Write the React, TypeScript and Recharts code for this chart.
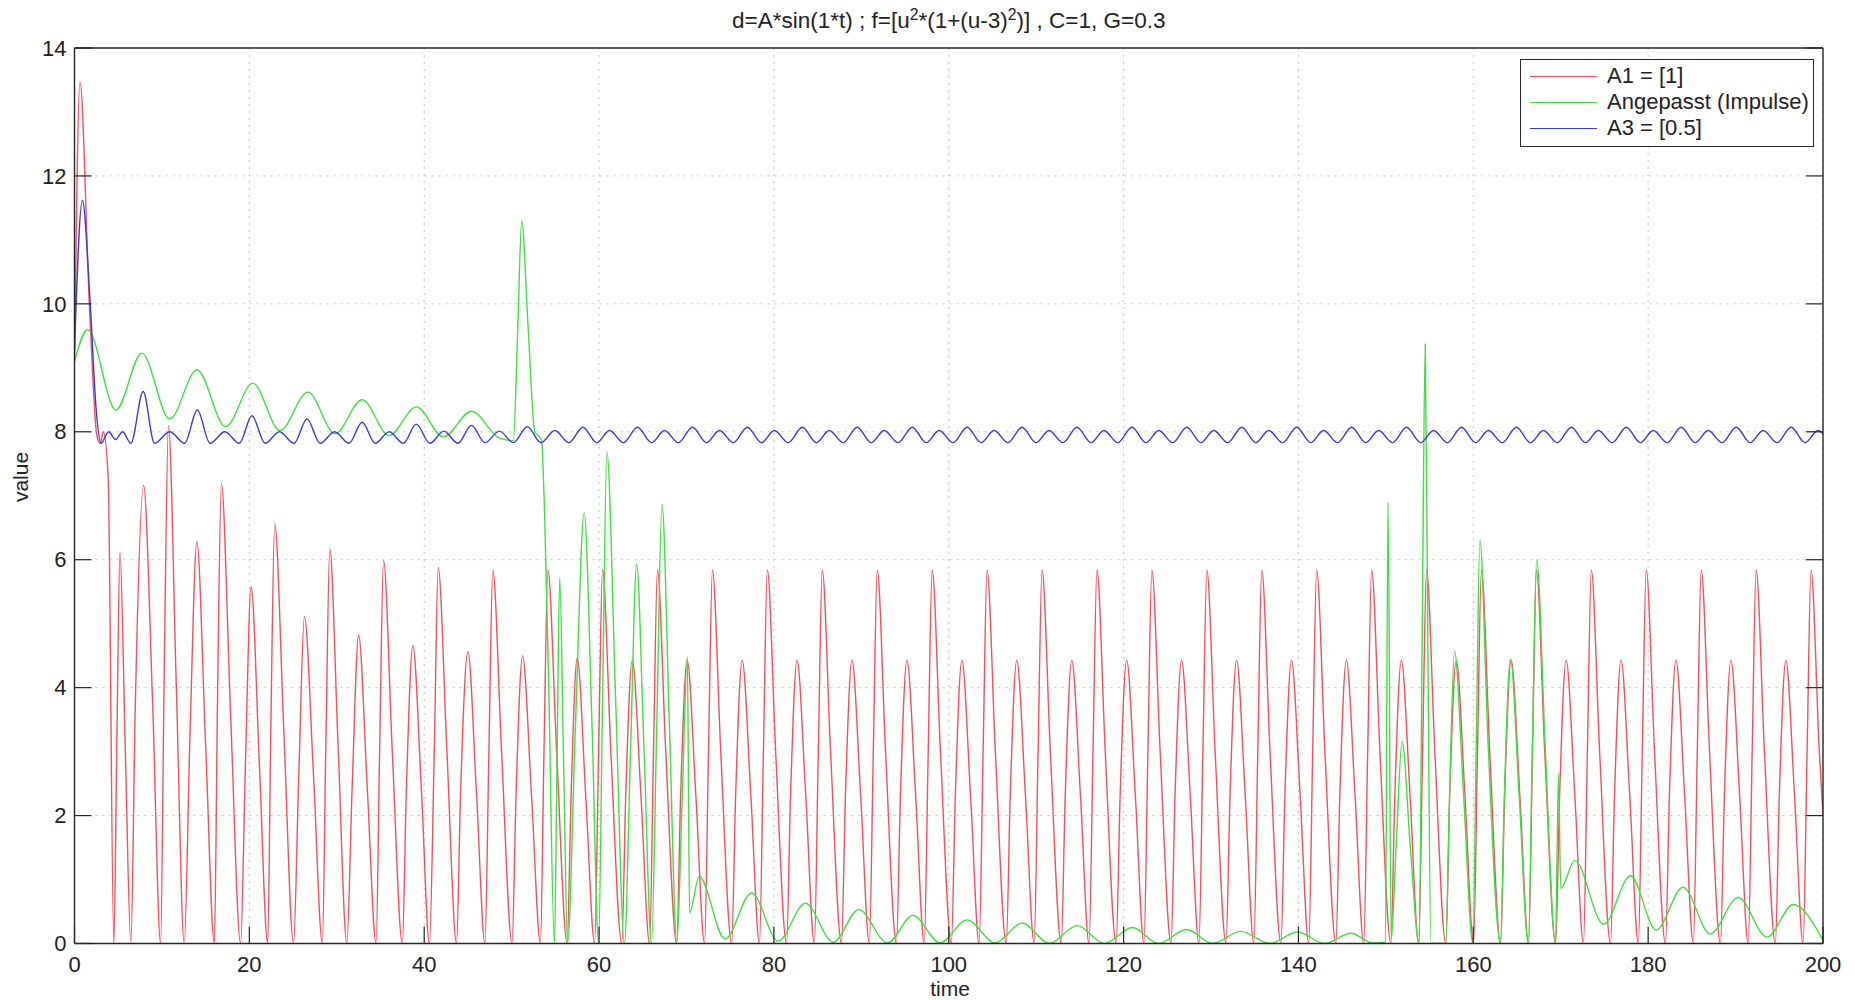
import React from "react";
import { LineChart, Line, XAxis, YAxis, CartesianGrid } from "recharts";

// [time, value] pairs
const A1_POINTS: [number, number][] = [
  [0, 9.1], [0.63, 13.47], [1.7, 10.0], [2.55, 7.95], [2.95, 7.82], [3.3, 8.0], [3.85, 7.3], [4.5, 0],
  [4.85, 3.2], [5.2, 6.12], [5.8, 3.1], [6.45, 0],
  [6.95, 3.7], [7.9, 7.16], [8.95, 3.7], [9.85, 0],
  [10.25, 4.1], [10.75, 8.1], [11.65, 4.0], [12.55, 0],
  [13.2, 3.2], [14.0, 6.28], [15.0, 3.1], [16.0, 0],
  [16.35, 3.7], [16.8, 7.19], [17.85, 3.6], [19.0, 0],
  [19.55, 2.8], [20.2, 5.58], [21.15, 2.8], [22.1, 0],
  [22.45, 3.3], [22.9, 6.56], [23.95, 3.3], [25.05, 0],
  [25.65, 2.6], [26.3, 5.11], [27.35, 2.6], [28.35, 0],
  [28.75, 3.1], [29.2, 6.17], [30.15, 3.1], [31.15, 0],
  [31.75, 2.4], [32.5, 4.82], [33.5, 2.4], [34.5, 0],
  [34.9, 3.0], [35.35, 5.99], [36.35, 3.0], [37.5, 0],
  [37.95, 2.35], [38.7, 4.66], [39.7, 2.35], [40.6, 0],
  [41.15, 3.0], [41.6, 5.88], [42.6, 3.0], [43.7, 0],
  [44.15, 2.3], [45.0, 4.56], [46.0, 2.3], [46.95, 0],
  [47.4, 3.0], [47.85, 5.84], [48.85, 3.0], [50.05, 0],
  [50.5, 2.3], [51.25, 4.5], [52.3, 2.25], [53.3, 0],
  [53.7, 3.0], [54.15, 5.84], [55.15, 3.0], [56.35, 0],
  [56.8, 2.3], [57.5, 4.47], [58.5, 2.25], [59.5, 0],
  [59.95, 3.0], [60.4, 5.84], [61.35, 3.0], [62.6, 0], [63.05, 2.3], [63.8, 4.43], [64.8, 2.3], [65.78, 0],
  [66.23, 3.0], [66.68, 5.84], [67.63, 3.0], [68.88, 0], [69.33, 2.3], [70.08, 4.43], [71.08, 2.3], [72.07, 0],
  [72.52, 3.0], [72.97, 5.84], [73.92, 3.0], [75.17, 0], [75.62, 2.3], [76.37, 4.43], [77.37, 2.3], [78.35, 0],
  [78.8, 3.0], [79.25, 5.84], [80.2, 3.0], [81.45, 0], [81.9, 2.3], [82.65, 4.43], [83.65, 2.3], [84.63, 0],
  [85.08, 3.0], [85.53, 5.84], [86.48, 3.0], [87.73, 0], [88.18, 2.3], [88.93, 4.43], [89.93, 2.3], [90.92, 0],
  [91.37, 3.0], [91.82, 5.84], [92.77, 3.0], [94.02, 0], [94.47, 2.3], [95.22, 4.43], [96.22, 2.3], [97.2, 0],
  [97.65, 3.0], [98.1, 5.84], [99.05, 3.0], [100.3, 0], [100.75, 2.3], [101.5, 4.43], [102.5, 2.3], [103.48, 0],
  [103.93, 3.0], [104.38, 5.84], [105.33, 3.0], [106.58, 0], [107.03, 2.3], [107.78, 4.43], [108.78, 2.3], [109.77, 0],
  [110.22, 3.0], [110.67, 5.84], [111.62, 3.0], [112.87, 0], [113.32, 2.3], [114.07, 4.43], [115.07, 2.3], [116.05, 0],
  [116.5, 3.0], [116.95, 5.84], [117.9, 3.0], [119.15, 0], [119.6, 2.3], [120.35, 4.43], [121.35, 2.3], [122.33, 0],
  [122.78, 3.0], [123.23, 5.84], [124.18, 3.0], [125.43, 0], [125.88, 2.3], [126.63, 4.43], [127.63, 2.3], [128.62, 0],
  [129.07, 3.0], [129.52, 5.84], [130.47, 3.0], [131.72, 0], [132.17, 2.3], [132.92, 4.43], [133.92, 2.3], [134.9, 0],
  [135.35, 3.0], [135.8, 5.84], [136.75, 3.0], [138.0, 0], [138.45, 2.3], [139.2, 4.43], [140.2, 2.3], [141.18, 0],
  [141.63, 3.0], [142.08, 5.84], [143.03, 3.0], [144.28, 0], [144.73, 2.3], [145.48, 4.43], [146.48, 2.3], [147.47, 0],
  [147.92, 3.0], [148.37, 5.84], [149.32, 3.0], [150.57, 0], [151.02, 2.3], [151.77, 4.43], [152.77, 2.3], [153.75, 0],
  [154.2, 3.0], [154.65, 5.84], [155.6, 3.0], [156.85, 0], [157.3, 2.3], [158.05, 4.43], [159.05, 2.3], [160.03, 0],
  [160.48, 3.0], [160.93, 5.84], [161.88, 3.0], [163.13, 0], [163.58, 2.3], [164.33, 4.43], [165.33, 2.3], [166.32, 0],
  [166.77, 3.0], [167.22, 5.84], [168.17, 3.0], [169.42, 0], [169.87, 2.3], [170.62, 4.43], [171.62, 2.3], [172.6, 0],
  [173.05, 3.0], [173.5, 5.84], [174.45, 3.0], [175.7, 0], [176.15, 2.3], [176.9, 4.43], [177.9, 2.3], [178.88, 0],
  [179.33, 3.0], [179.78, 5.84], [180.73, 3.0], [181.98, 0], [182.43, 2.3], [183.18, 4.43], [184.18, 2.3], [185.17, 0],
  [185.62, 3.0], [186.07, 5.84], [187.02, 3.0], [188.27, 0], [188.72, 2.3], [189.47, 4.43], [190.47, 2.3], [191.45, 0],
  [191.9, 3.0], [192.35, 5.84], [193.3, 3.0], [194.55, 0], [195.0, 2.3], [195.75, 4.43], [196.75, 2.3], [197.73, 0],
  [198.18, 3.0], [198.63, 5.84], [199.58, 3.0], [200, 2.0],
];

const IMPULSE_POINTS: [number, number][] = [
  [0, 9.1], [1.5, 9.6], [4.75, 8.34], [7.7, 9.23], [10.9, 8.2], [14.0, 8.97], [17.3, 8.08], [20.4, 8.76],
  [23.5, 8.02], [26.7, 8.62], [29.8, 7.97], [32.9, 8.5], [36.0, 7.94], [39.1, 8.39], [42.2, 7.92], [45.4, 8.32],
  [48.6, 7.9], [50.2, 7.86], [50.7, 9.6], [51.15, 11.3], [51.9, 9.6], [52.65, 8.0], [53.4, 7.88], [54.2, 4.3], [54.9, 0],
  [55.2, 2.9], [55.5, 5.72], [55.95, 2.8], [56.4, 0], [57.3, 3.4], [58.3, 6.73], [59.2, 3.4], [59.95, 0],
  [60.4, 3.8], [60.9, 7.68], [61.9, 3.8], [62.9, 0], [63.6, 3.0], [64.3, 5.93], [65.15, 3.0], [66.0, 0],
  [66.6, 3.4], [67.2, 6.87], [68.05, 3.4], [68.9, 0], [69.5, 2.2], [70.1, 4.48], [70.35, 0.48],
  [71.45, 1.05], [74.4, 0.07], [77.45, 0.79], [80.5, 0.04], [83.6, 0.63], [86.8, 0.02], [89.7, 0.53], [93.0, 0.01],
  [95.9, 0.44], [99.0, 0.01], [102.1, 0.37], [105.3, 0.01], [108.4, 0.32], [111.5, 0], [114.7, 0.28], [117.8, 0],
  [121.0, 0.25], [124.0, 0], [127.2, 0.22], [130.2, 0], [133.4, 0.19], [136.7, 0], [139.9, 0.18], [143.0, 0],
  [146.0, 0.16], [148.5, 0.01], [149.95, 0.02], [150.25, 6.9], [150.6, 0.05], [151.2, 1.6], [151.85, 3.16], [152.8, 1.5], [153.8, 0],
  [154.15, 4.7], [154.5, 9.37], [154.8, 4.7], [155.15, 0], [156.85, 0], [157.3, 2.4], [157.85, 4.57], [158.9, 2.3], [159.95, 0],
  [160.35, 3.2], [160.75, 6.31], [161.7, 3.1], [163.1, 0], [163.55, 2.3], [164.25, 4.45], [165.25, 2.3], [166.3, 0],
  [166.75, 3.0], [167.25, 6.0], [168.25, 3.0], [169.4, 0], [169.75, 2.65], [170.0, 0.86], [171.6, 1.3], [174.9, 0.3],
  [178.0, 1.06], [180.9, 0.21], [184.0, 0.88], [187.1, 0.15], [190.3, 0.72], [193.6, 0.1], [196.6, 0.61], [200, 0.05],
];

const A3_POINTS: [number, number][] = [
  [0, 9.3], [0.9, 11.62], [1.8, 10.0], [2.45, 8.4], [3.05, 7.82], [3.9, 8.0], [4.7, 7.88], [5.5, 8.0], [6.45, 7.82],
  [7.85, 8.63], [9.15, 7.82], [10.9, 8.0], [12.6, 7.82],
  [14.05, 8.34], [15.5, 7.82], [17.2, 8.0], [18.85, 7.82],
  [20.3, 8.25], [21.8, 7.82], [23.45, 8.0], [25.1, 7.82],
  [26.6, 8.2], [28.1, 7.82], [29.75, 8.0], [31.4, 7.82],
  [32.9, 8.15], [34.4, 7.82], [36.0, 8.0], [37.6, 7.82],
  [39.1, 8.12], [40.65, 7.82], [42.25, 8.01], [43.85, 7.82],
  [45.4, 8.1], [46.95, 7.83], [48.6, 8.01], [50.2, 7.83],
  [51.8, 8.08], [53.35, 7.83], [54.95, 8.02], [56.55, 7.83],
  [58.15, 8.07], [59.75, 7.83],
  [61.2, 8.02], [62.8, 7.83], [64.4, 8.07], [66.0, 7.83],
  [67.48, 8.02], [69.08, 7.83], [70.68, 8.07], [72.28, 7.83],
  [73.77, 8.02], [75.37, 7.83], [76.97, 8.07], [78.57, 7.83],
  [80.05, 8.02], [81.65, 7.83], [83.25, 8.07], [84.85, 7.83],
  [86.33, 8.02], [87.93, 7.83], [89.53, 8.07], [91.13, 7.83],
  [92.62, 8.02], [94.22, 7.83], [95.82, 8.07], [97.42, 7.83],
  [98.9, 8.02], [100.5, 7.83], [102.1, 8.07], [103.7, 7.83],
  [105.18, 8.02], [106.78, 7.83], [108.38, 8.07], [109.98, 7.83],
  [111.47, 8.02], [113.07, 7.83], [114.67, 8.07], [116.27, 7.83],
  [117.75, 8.02], [119.35, 7.83], [120.95, 8.07], [122.55, 7.83],
  [124.03, 8.02], [125.63, 7.83], [127.23, 8.07], [128.83, 7.83],
  [130.32, 8.02], [131.92, 7.83], [133.52, 8.07], [135.12, 7.83],
  [136.6, 8.02], [138.2, 7.83], [139.8, 8.07], [141.4, 7.83],
  [142.88, 8.02], [144.48, 7.83], [146.08, 8.07], [147.68, 7.83],
  [149.17, 8.02], [150.77, 7.83], [152.37, 8.07], [153.97, 7.83],
  [155.45, 8.02], [157.05, 7.83], [158.65, 8.07], [160.25, 7.83],
  [161.73, 8.02], [163.33, 7.83], [164.93, 8.07], [166.53, 7.83],
  [168.02, 8.02], [169.62, 7.83], [171.22, 8.07], [172.82, 7.83],
  [174.3, 8.02], [175.9, 7.83], [177.5, 8.07], [179.1, 7.83],
  [180.58, 8.02], [182.18, 7.83], [183.78, 8.07], [185.38, 7.83],
  [186.87, 8.02], [188.47, 7.83], [190.07, 8.07], [191.67, 7.83],
  [193.15, 8.02], [194.75, 7.83], [196.35, 8.07], [197.95, 7.83],
  [199.43, 8.02], [200, 7.97],
];

const SERIES_NAMES = ["A1 = [1]", "Angepasst (Impulse)", "A3 = [0.5]"];
const X_TICKS = [0, 20, 40, 60, 80, 100, 120, 140, 160, 180, 200];
const Y_TICKS = [0, 2, 4, 6, 8, 10, 12, 14];

const CHART_W = 1847;
const CHART_H = 990;
const TICK_LEN = 17;
const AXIS_COLOR = "#262626";
const TEXT_COLOR = "#222";
const FONT = "'Liberation Sans', Arial, Helvetica, sans-serif";
const COLORS = ["#f0505f", "#44dd44", "#3b3bd0"];

const toRows = (pts: [number, number][]) => pts.map(([t, v]) => ({ t, v }));
const SERIES = [A1_POINTS, IMPULSE_POINTS, A3_POINTS].map((pts, i) => ({
  name: SERIES_NAMES[i],
  color: COLORS[i],
  rows: toRows(pts),
}));

function BottomTick(props: any) {
  const { x, y, payload } = props;
  return (
    <g>
      <line x1={x} y1={y} x2={x} y2={y - TICK_LEN} stroke={AXIS_COLOR} strokeWidth={1.2} />
      <text x={x} y={y + 21} dy="0.35em" textAnchor="middle" fontSize={22} fill={TEXT_COLOR} fontFamily={FONT}>
        {payload.value}
      </text>
    </g>
  );
}

function TopTick(props: any) {
  const { x, y } = props;
  return <line x1={x} y1={y} x2={x} y2={y + TICK_LEN} stroke={AXIS_COLOR} strokeWidth={1.2} />;
}

function LeftTick(props: any) {
  const { x, y, payload } = props;
  return (
    <g>
      <line x1={x} y1={y} x2={x + TICK_LEN} y2={y} stroke={AXIS_COLOR} strokeWidth={1.2} />
      <text x={x - 8} y={y} dy="0.35em" textAnchor="end" fontSize={22} fill={TEXT_COLOR} fontFamily={FONT}>
        {payload.value}
      </text>
    </g>
  );
}

function RightTick(props: any) {
  const { x, y } = props;
  return <line x1={x} y1={y} x2={x - TICK_LEN} y2={y} stroke={AXIS_COLOR} strokeWidth={1.2} />;
}

export default function App() {
  const axisLine = { stroke: AXIS_COLOR, strokeWidth: 1.4 };
  return (
    <div style={{ position: "relative", width: CHART_W, height: CHART_H, fontFamily: FONT, color: TEXT_COLOR }}>
      <div
        style={{
          position: "absolute",
          left: 66.5,
          width: 1748.5,
          top: 0,
          textAlign: "center",
          fontSize: 22.5,
          lineHeight: "26px",
          whiteSpace: "nowrap",
        }}
      >
        d=A*sin(1*t) ; f=[u<sup style={{ fontSize: "0.7em", lineHeight: 0 }}>2</sup>*(1+(u-3)
        <sup style={{ fontSize: "0.7em", lineHeight: 0 }}>2</sup>)] , C=1, G=0.3
      </div>

      <LineChart width={CHART_W} height={CHART_H} margin={{ top: 39, right: 31, bottom: 24.5, left: 6.5 }}>
        <CartesianGrid stroke="#c2c2c2" strokeDasharray="2 5" />
        {SERIES.map((s) => (
          <Line
            key={s.name}
            name={s.name}
            data={s.rows}
            dataKey="v"
            type="monotone"
            stroke={s.color}
            strokeWidth={1.4}
            dot={false}
            activeDot={false}
            isAnimationActive={false}
          />
        ))}
        <XAxis
          dataKey="t"
          type="number"
          domain={[0, 200]}
          ticks={X_TICKS}
          interval={0}
          height={30}
          tickSize={0}
          tickMargin={0}
          tickLine={false}
          tick={<BottomTick />}
          axisLine={axisLine}
          allowDataOverflow
        />
        <XAxis
          xAxisId="top"
          orientation="top"
          type="number"
          domain={[0, 200]}
          ticks={X_TICKS}
          interval={0}
          height={1}
          tickSize={0}
          tickMargin={0}
          tickLine={false}
          tick={<TopTick />}
          axisLine={axisLine}
          allowDataOverflow
        />
        <YAxis
          type="number"
          domain={[0, 14]}
          ticks={Y_TICKS}
          interval={0}
          width={60}
          tickSize={0}
          tickMargin={0}
          tickLine={false}
          tick={<LeftTick />}
          axisLine={axisLine}
          allowDataOverflow
        />
        <YAxis
          yAxisId="right"
          orientation="right"
          type="number"
          domain={[0, 14]}
          ticks={Y_TICKS}
          interval={0}
          width={1}
          tickSize={0}
          tickMargin={0}
          tickLine={false}
          tick={<RightTick />}
          axisLine={axisLine}
          allowDataOverflow
        />
      </LineChart>

      <div
        style={{
          position: "absolute",
          left: 13,
          top: 469,
          transform: "translate(-50%, -50%) rotate(-90deg)",
          fontSize: 21,
          whiteSpace: "nowrap",
        }}
      >
        value
      </div>
      <div
        style={{
          position: "absolute",
          left: 942,
          top: 981,
          transform: "translate(-50%, -50%)",
          fontSize: 21,
          whiteSpace: "nowrap",
        }}
      >
        time
      </div>

      <div
        style={{
          position: "absolute",
          left: 1512,
          top: 51,
          width: 294,
          height: 88,
          boxSizing: "border-box",
          border: `1.5px solid ${AXIS_COLOR}`,
          background: "#fff",
          fontSize: 22,
        }}
      >
        {SERIES.map((s, i) => (
          <div
            key={s.name}
            style={{ position: "absolute", left: 0, top: 3 + i * 26, height: 26, display: "flex", alignItems: "center" }}
          >
            <div style={{ marginLeft: 9, width: 67, borderTop: `1.5px solid ${s.color}` }} />
            <span style={{ marginLeft: 10, whiteSpace: "nowrap" }}>{s.name}</span>
          </div>
        ))}
      </div>
    </div>
  );
}
